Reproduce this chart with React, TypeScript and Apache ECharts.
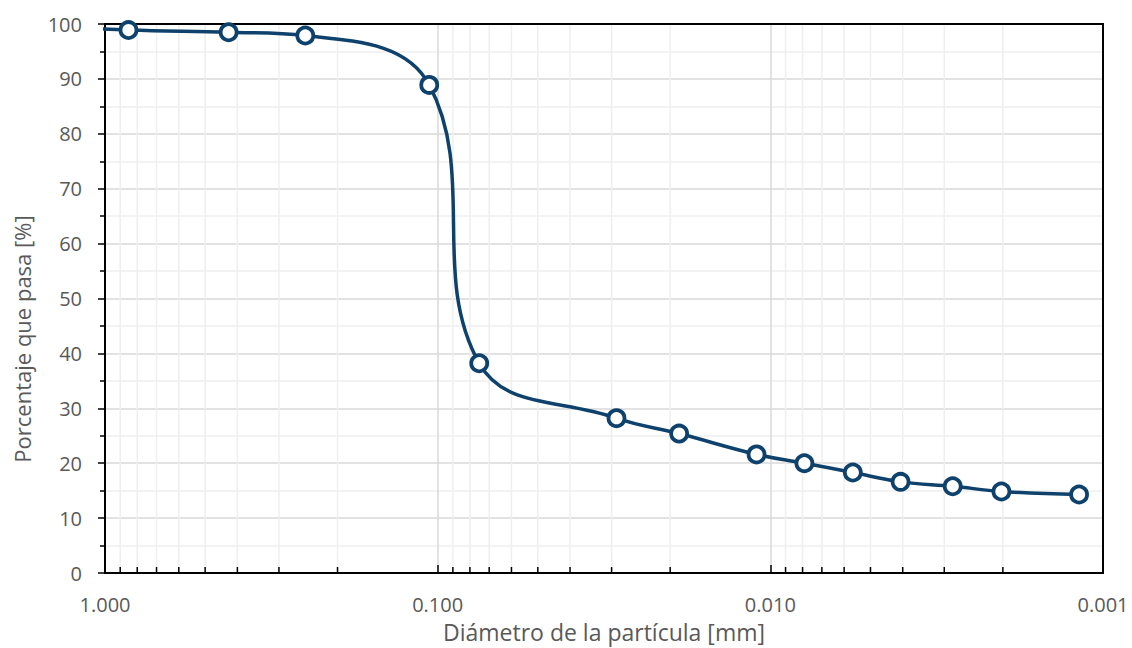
import React, { useEffect, useRef } from "react";
import * as echarts from "echarts";

// Sieve + hydrometer results: particle diameter [mm] and percent passing
const diameters = [2.0, 0.85, 0.425, 0.25, 0.106, 0.075, 0.029, 0.0188, 0.011, 0.0079, 0.00565, 0.00406, 0.00283, 0.00202, 0.00118];
const percentPassing = [100, 98.9, 98.5, 97.9, 88.9, 38.2, 28.2, 25.4, 21.6, 20.0, 18.3, 16.6, 15.8, 14.85, 14.3];

// Minor log-scale positions (2..9 within each decade)
const minorDiameters = [
  0.9, 0.8, 0.7, 0.6, 0.5, 0.4, 0.3, 0.2,
  0.09, 0.08, 0.07, 0.06, 0.05, 0.04, 0.03, 0.02,
  0.009, 0.008, 0.007, 0.006, 0.005, 0.004, 0.003, 0.002,
];

const xTitle = "Diámetro de la partícula [mm]";
const yTitle = "Porcentaje que pasa [%]";

const FONT = "'Open Sans', sans-serif";
const TEXT = "#595959";
const NAVY = "#0e426c";

export default function App() {
  const ref = useRef<HTMLDivElement>(null);

  useEffect(() => {
    document.body.style.margin = "0";
    const chart = echarts.init(ref.current!, undefined, { renderer: "svg" });
    chart.setOption({
      animation: false,
      backgroundColor: "#ffffff",
      grid: {
        left: 105,
        right: 29,
        top: 24,
        bottom: 74,
        show: true,
        z: 3,
        borderColor: "#000",
        borderWidth: 2,
        backgroundColor: "transparent",
      },
      graphic: [
        {
          type: "text",
          x: 22,
          y: 339,
          rotation: Math.PI / 2,
          style: {
            text: yTitle,
            fill: TEXT,
            font: `22px ${FONT}`,
            textAlign: "center",
            textVerticalAlign: "middle",
          },
        },
      ],
      xAxis: {
        type: "log",
        logBase: 10,
        inverse: true,
        min: 0.001,
        max: 1,
        name: xTitle,
        nameLocation: "middle",
        nameGap: 47,
        nameTextStyle: { color: TEXT, fontSize: 23, fontFamily: FONT },
        axisLine: { lineStyle: { color: "#000", width: 2 } },
        axisTick: { show: true, inside: true, length: 8, lineStyle: { color: "#000", width: 1.5 } },
        axisLabel: {
          color: TEXT,
          fontSize: 20,
          fontFamily: FONT,
          margin: 21,
          formatter: (v: number) => v.toFixed(3),
        },
        splitLine: { show: true, lineStyle: { color: "#d9d9d9", width: 1.5 } },
      },
      yAxis: {
        type: "value",
        min: 0,
        max: 100,
        interval: 10,
        axisLine: { show: true, lineStyle: { color: "#000", width: 2 } },
        axisTick: { show: true, inside: false, length: 7, lineStyle: { color: "#000", width: 1.5 } },
        minorTick: { show: true, splitNumber: 2, length: 5, lineStyle: { color: "#000", width: 1.5 } },
        axisLabel: { color: TEXT, fontSize: 20, fontFamily: FONT, margin: 23 },
        splitLine: { show: true, lineStyle: { color: "#d9d9d9", width: 1.5 } },
        minorSplitLine: { show: true, lineStyle: { color: "#efefef", width: 1.5 } },
      },
      series: [
        {
          // minor vertical gridlines and inside tick marks of the log axis
          type: "custom",
          silent: true,
          z: 1,
          clip: true,
          encode: { x: 0, y: 1 },
          data: minorDiameters.map((d) => [d, 0]),
          renderItem: (_params: any, api: any) => {
            const d = api.value(0);
            const top = api.coord([d, 100]);
            const bot = api.coord([d, 0]);
            return {
              type: "group",
              children: [
                {
                  type: "line",
                  shape: { x1: top[0], y1: top[1], x2: bot[0], y2: bot[1] },
                  style: { stroke: "#efefef", lineWidth: 1.5 },
                },
                {
                  type: "line",
                  shape: { x1: bot[0], y1: bot[1], x2: bot[0], y2: bot[1] - 6 },
                  style: { stroke: "#000", lineWidth: 1.5 },
                  z2: 10,
                },
              ],
            };
          },
        },
        {
          type: "line",
          z: 5,
          clip: true,
          smooth: 0.4,
          data: diameters.map((d, i) => [d, percentPassing[i]]),
          symbol: "circle",
          symbolSize: 16,
          showAllSymbol: true,
          lineStyle: { color: NAVY, width: 3.5 },
          itemStyle: { color: "#ffffff", borderColor: NAVY, borderWidth: 3.8 },
        },
      ],
    });
    return () => chart.dispose();
  }, []);

  return <div ref={ref} style={{ width: 1132, height: 648 }} />;
}
